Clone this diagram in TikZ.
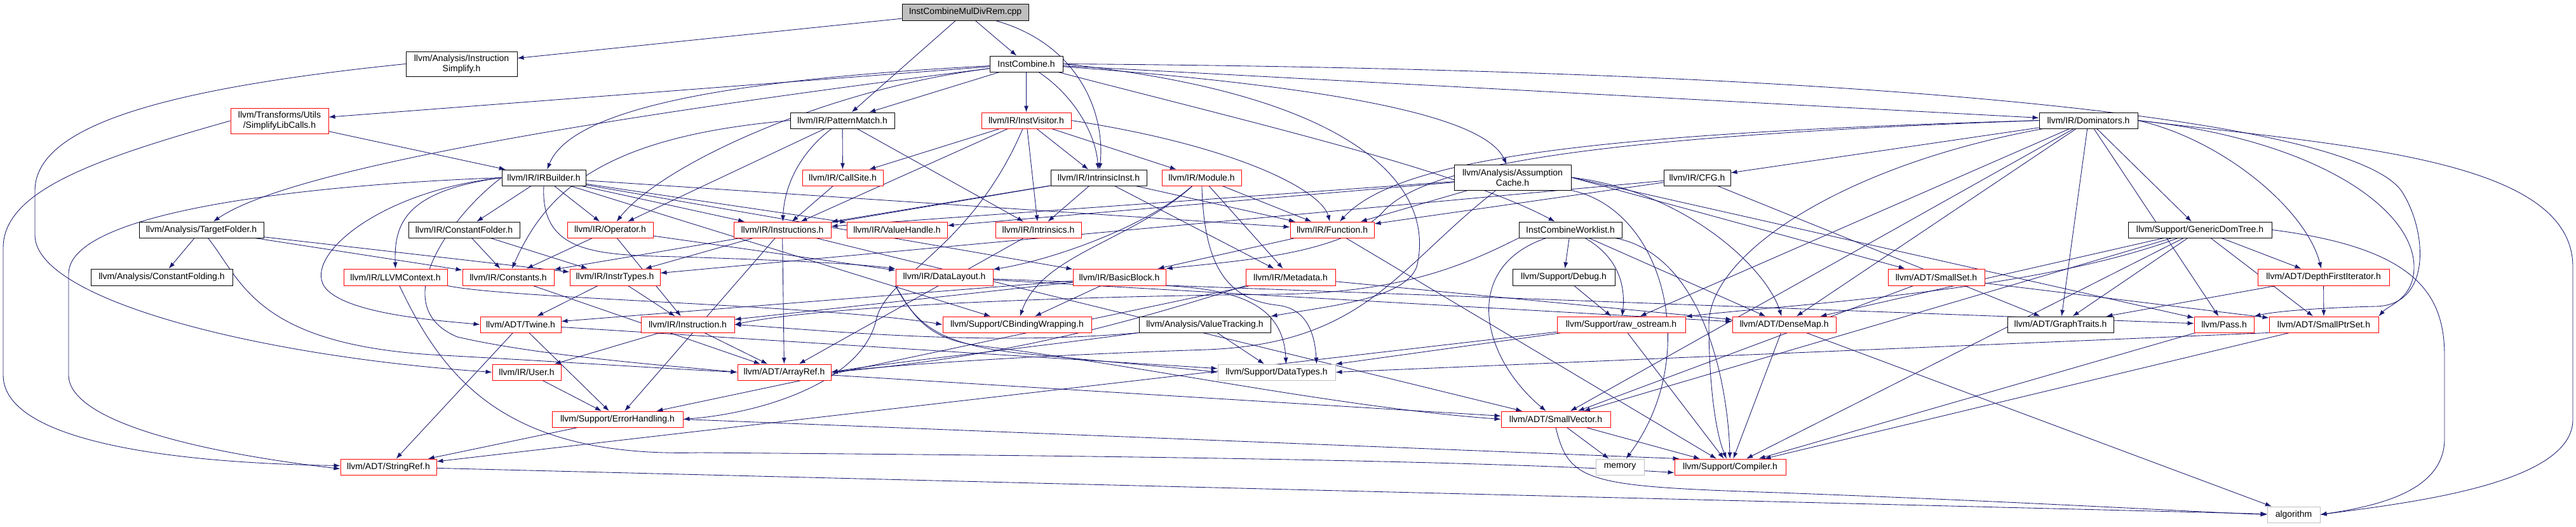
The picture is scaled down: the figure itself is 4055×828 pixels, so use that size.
\documentclass[tikz,border=0pt]{standalone}
\usepackage{fontspec}
\setmainfont{Liberation Sans}
\usetikzlibrary{arrows.meta}
\definecolor{edgec}{HTML}{191970}
\definecolor{greyc}{HTML}{BFBFBF}
\definecolor{redc}{HTML}{FF0000}
\newcommand\dxfont{\fontsize{14}{16}\selectfont}
\pgfdeclarelayer{edges}
\pgfsetlayers{edges,main}
\tikzset{
  box/.style={draw, line width=0.9pt, inner sep=0pt, align=center, font=\dxfont, fill=white},
  blk/.style={box, draw=black},
  rbox/.style={box, draw=redc},
  gbox/.style={box, draw=greyc},
  dep/.style={draw=edgec, line width=0.85pt, -{Latex[length=10pt,width=7pt]}},
}
\newcommand\bx[7]{%
 \pgfmathsetmacro\bxw{#5-#3}\pgfmathsetmacro\bxh{#6-#4}%
 \pgfmathsetmacro\bxx{(#3+#5)/2}\pgfmathsetmacro\bxy{(#4+#6)/2}%
 \node[#2, minimum width=\bxw pt, minimum height=\bxh pt] (#1) at (\bxx,\bxy) {#7};}
\begin{document}
\begin{tikzpicture}[x=1pt,y=-1pt]
\useasboundingbox (0,0) rectangle (4055,828);
\bx{cpp}{blk,fill=greyc}{1420}{6}{1619}{32}{InstCombineMulDivRem.cpp}
\bx{isimp}{blk}{639}{81}{814}{120}{llvm/Analysis/Instruction\\Simplify.h}
\bx{icomb}{blk}{1558}{88}{1673}{113}{InstCombine.h}
\bx{slc}{rbox}{363}{170}{517}{210}{llvm/Transforms/Utils\\/SimplifyLibCalls.h}
\bx{pm}{blk}{1244}{177}{1408}{202}{llvm/IR/PatternMatch.h}
\bx{iv}{rbox}{1545}{177}{1686}{202}{llvm/IR/InstVisitor.h}
\bx{dom}{blk}{3210}{177}{3365}{202}{llvm/IR/Dominators.h}
\bx{irb}{blk}{790}{267}{922}{292}{llvm/IR/IRBuilder.h}
\bx{cs}{rbox}{1263}{267}{1390}{292}{llvm/IR/CallSite.h}
\bx{ii}{blk}{1654}{267}{1805}{292}{llvm/IR/IntrinsicInst.h}
\bx{mod}{rbox}{1829}{267}{1954}{292}{llvm/IR/Module.h}
\bx{ac}{blk}{2289}{259}{2473}{299}{llvm/Analysis/Assumption\\Cache.h}
\bx{cfg}{blk}{2619}{267}{2724}{292}{llvm/IR/CFG.h}
\bx{tf}{blk}{219}{349}{415}{374}{llvm/Analysis/TargetFolder.h}
\bx{cf}{blk}{643}{349}{818}{374}{llvm/IR/ConstantFolder.h}
\bx{op}{rbox}{893}{349}{1028}{374}{llvm/IR/Operator.h}
\bx{ins}{rbox}{1155}{349}{1308}{374}{llvm/IR/Instructions.h}
\bx{vh}{rbox}{1333}{349}{1491}{374}{llvm/IR/ValueHandle.h}
\bx{intr}{rbox}{1567}{349}{1702}{374}{llvm/IR/Intrinsics.h}
\bx{fn}{rbox}{2031}{349}{2163}{374}{llvm/IR/Function.h}
\bx{icw}{blk}{2391}{349}{2553}{374}{InstCombineWorklist.h}
\bx{gdt}{blk}{3350}{349}{3576}{374}{llvm/Support/GenericDomTree.h}
\bx{cfold}{blk}{143}{423}{366}{449}{llvm/Analysis/ConstantFolding.h}
\bx{ctx}{rbox}{541}{423}{704}{449}{llvm/IR/LLVMContext.h}
\bx{cons}{rbox}{728}{423}{872}{449}{llvm/IR/Constants.h}
\bx{it}{rbox}{897}{423}{1039}{449}{llvm/IR/InstrTypes.h}
\bx{dl}{rbox}{1410}{423}{1563}{449}{llvm/IR/DataLayout.h}
\bx{bb}{rbox}{1689}{423}{1835}{449}{llvm/IR/BasicBlock.h}
\bx{md}{rbox}{1961}{423}{2102}{449}{llvm/IR/Metadata.h}
\bx{dbg}{blk}{2381}{423}{2542}{449}{llvm/Support/Debug.h}
\bx{ss}{rbox}{2972}{423}{3124}{449}{llvm/ADT/SmallSet.h}
\bx{dfi}{rbox}{3554}{423}{3761}{449}{llvm/ADT/DepthFirstIterator.h}
\bx{tw}{rbox}{756}{498}{883}{523}{llvm/ADT/Twine.h}
\bx{inst}{rbox}{1009}{498}{1156}{523}{llvm/IR/Instruction.h}
\bx{cbw}{rbox}{1484}{498}{1718}{523}{llvm/Support/CBindingWrapping.h}
\bx{vt}{blk}{1793}{498}{2000}{523}{llvm/Analysis/ValueTracking.h}
\bx{ros}{rbox}{2451}{498}{2653}{523}{llvm/Support/raw\_ostream.h}
\bx{dm}{rbox}{2727}{498}{2890}{523}{llvm/ADT/DenseMap.h}
\bx{gt}{blk}{3160}{498}{3327}{523}{llvm/ADT/GraphTraits.h}
\bx{pass}{rbox}{3454}{498}{3548}{523}{llvm/Pass.h}
\bx{sps}{rbox}{3572}{498}{3744}{523}{llvm/ADT/SmallPtrSet.h}
\bx{user}{rbox}{775}{573}{883}{598}{llvm/IR/User.h}
\bx{ar}{rbox}{1161}{573}{1308}{598}{llvm/ADT/ArrayRef.h}
\bx{dt}{gbox}{1917}{573}{2102}{598}{llvm/Support/DataTypes.h}
\bx{eh}{rbox}{869}{647}{1075}{672}{llvm/Support/ErrorHandling.h}
\bx{sv}{rbox}{2363}{647}{2535}{672}{llvm/ADT/SmallVector.h}
\bx{sr}{rbox}{536}{722}{687}{747}{llvm/ADT/StringRef.h}
\bx{mem}{gbox}{2512}{722}{2588}{747}{memory}
\bx{comp}{rbox}{2636}{722}{2811}{747}{llvm/Support/Compiler.h}
\bx{alg}{gbox}{3569}{797}{3652}{822}{algorithm}

\begin{pgfonlayer}{edges}
% InstCombineMulDivRem.cpp
\draw[dep] (cpp) -- (isimp);
\draw[dep] (cpp) -- (icomb);
\draw[dep] (cpp) -- (pm);
\draw[dep] (cpp) .. controls (1700,70) and (1740,180) .. (ii);
% InstCombine.h
\draw[dep] (icomb) -- (slc);
\draw[dep] (icomb) .. controls (900,190) and (450,270) .. (tf);
\draw[dep] (icomb) .. controls (1150,125) and (900,170) .. (irb);
\draw[dep] (icomb) -- (pm);
\draw[dep] (icomb) -- (iv);
\draw[dep] (icomb) .. controls (1690,150) and (1725,210) .. (ii);
\draw[dep] (icomb) .. controls (1300,140) and (1040,260) .. (op);
\draw[dep] (icomb) -- (dom);
\draw[dep] (icomb) .. controls (2150,140) and (2340,190) .. (ac);
\draw[dep] (icomb) .. controls (2000,200) and (2300,270) .. (icw);
\draw[dep] (icomb.east) .. controls (2150,150) and (2260,300) .. (2230,420) .. controls (2210,470) and (2100,480) .. (vt.north east);
\draw[dep] (icomb.east) .. controls (3000,110) and (3700,190) .. (3780,300) .. controls (3820,360) and (3830,480) .. (3740,482) .. controls (3650,484) and (3580,490) .. (pass.north east);
% isimp, slc
\draw[dep] (isimp.west) .. controls (250,140) and (55,200) .. (55,300) -- (55,370) .. controls (55,470) and (400,560) .. (user.west);
\draw[dep] (slc.west) .. controls (150,250) and (5,300) .. (5,390) -- (5,590) .. controls (5,690) and (250,728) .. ([yshift=2pt]sr.west);
\draw[dep] (slc) -- (irb);
% PatternMatch
\draw[dep] (pm) -- (cs);
\draw[dep] (pm.west) .. controls (950,215) and (860,300) .. (cons);
\draw[dep] (pm) .. controls (1260,240) and (1235,290) .. (ins);
\draw[dep] (pm) -- (intr);
\draw[dep] (pm) -- (op);
% InstVisitor
\draw[dep] (iv) -- (cs);
\draw[dep] (iv.east) .. controls (1950,230) and (2080,300) .. (fn);
\draw[dep] (iv) -- (ins);
\draw[dep] (iv) -- (ii);
\draw[dep] (iv) -- (intr);
\draw[dep] (iv) -- (mod);
\draw[dep] (iv) .. controls (1530,390) and (1400,430) .. (1380,500) .. controls (1360,600) and (1200,650) .. (eh.east);
% Dominators
\draw[dep] (dom) -- (cfg);
\draw[dep] (dom.west) .. controls (2500,210) and (2200,250) .. (fn);
\draw[dep] (dom.west) .. controls (2500,215) and (2250,260) .. (2180,330) .. controls (2120,400) and (1950,410) .. (bb.north east);
\draw[dep] (dom) -- (gdt);
\draw[dep] (dom) -- (dm);
\draw[dep] (dom) -- (gt);
\draw[dep] (dom) -- (sv);
\draw[dep] (dom) -- (ros);
\draw[dep] (dom) .. controls (2900,260) and (2690,400) .. (2690,510) .. controls (2690,600) and (2700,680) .. (comp);
\draw[dep] (dom) -- (pass);
\draw[dep] (dom.east) .. controls (3500,220) and (3630,330) .. (dfi);
\draw[dep] (dom.east) .. controls (3650,220) and (3800,330) .. (3800,420) .. controls (3800,470) and (3760,480) .. (sps.north east);
\draw[dep] (dom.east) .. controls (3700,230) and (4050,250) .. (4050,420) -- (4050,660) .. controls (4050,760) and (3800,790) .. (alg.east);
% IRBuilder
\draw[dep] (irb) -- (cf);
\draw[dep] (irb) -- (op);
\draw[dep] (irb) -- (ins);
\draw[dep] (irb) -- (vh);
\draw[dep] (irb) -- (fn);
\draw[dep] (irb) -- (bb);
\draw[dep] (irb) -- (cbw);
\draw[dep] (irb.south) .. controls (850,410) and (960,400) .. (1100,405) .. controls (1250,410) and (1350,415) .. (dl.north west);
\draw[dep] (irb.west) .. controls (500,290) and (110,330) .. (108,430) -- (108,590) .. controls (108,660) and (300,710) .. ([yshift=-3pt]sr.west);
\draw[dep] (irb.west) .. controls (600,300) and (480,400) .. (510,450) .. controls (540,495) and (700,505) .. (tw.west);
\draw[dep] (irb.west) .. controls (640,300) and (620,350) .. (ctx.north);
\draw[dep] (irb.west) .. controls (720,330) and (600,480) .. (720,530) .. controls (850,560) and (1050,575) .. (ar.west);
% CallSite, IntrinsicInst, Module
\draw[dep] (cs) -- (ins);
\draw[dep] (ii) -- (intr);
\draw[dep] (ii) -- (ins);
\draw[dep] (ii) -- (fn);
\draw[dep] (ii) -- (md);
\draw[dep] (ii) -- (cons);
\draw[dep] (mod) -- (fn);
\draw[dep] (mod) -- (md);
\draw[dep] (mod) .. controls (1800,360) and (1650,410) .. (dl);
\draw[dep] (mod) .. controls (1780,380) and (1640,400) .. (cbw);
\draw[dep] (mod) .. controls (1895,400) and (1920,470) .. (2010,480) .. controls (2060,485) and (2070,530) .. ([xshift=-30pt]dt.north east);
% AssumptionCache
\draw[dep] (ac) -- (fn);
\draw[dep] (ac) -- (ins);
\draw[dep] (ac) -- (vh);
\draw[dep] (ac) .. controls (2200,420) and (2150,540) .. (1900,550) .. controls (1600,560) and (1400,575) .. (ar.east);
\draw[dep] (ac.east) .. controls (2650,300) and (2780,420) .. (dm);
\draw[dep] (ac.east) -- (ss);
\draw[dep] (ac.east) -- (pass);
\draw[dep] (ac.south east) .. controls (2620,330) and (2680,560) .. (mem);
% CFG
\draw[dep] (cfg) -- (gt);
\draw[dep] (cfg) -- (fn);
\draw[dep] (cfg) -- (it);
% TargetFolder, ConstantFolder
\draw[dep] (tf) -- (cfold);
\draw[dep] (tf) -- (cons);
\draw[dep] (tf) -- (it);
\draw[dep] (tf) .. controls (380,440) and (400,540) .. (680,558) .. controls (900,570) and (1050,580) .. (ar.west);
\draw[dep] (cf) -- (cons);
\draw[dep] (cf) -- (it);
% Operator, Instructions, Intrinsics, Function
\draw[dep] (op) -- (cons);
\draw[dep] (op) -- (inst);
\draw[dep] (op) -- (dl);
\draw[dep] (ins) -- (it);
\draw[dep] (ins) -- (eh);
\draw[dep] (ins) -- (sv);
\draw[dep] (ins) -- (ar);
\draw[dep] (intr) -- (ar);
\draw[dep] (fn) -- (bb);
\draw[dep] (fn) -- (comp);
% InstCombineWorklist
\draw[dep] (icw.south west) .. controls (2300,420) and (2200,462) .. (2000,463) .. controls (1700,466) and (1300,480) .. (inst.east);
\draw[dep] (icw) .. controls (2300,420) and (2330,560) .. (sv);
\draw[dep] (icw) .. controls (2680,400) and (2720,600) .. (comp);
\draw[dep] (icw) -- (dbg);
\draw[dep] (icw) .. controls (2540,400) and (2560,440) .. (ros);
\draw[dep] (icw) -- (dm);
% GenericDomTree
\draw[dep] (gdt) -- (dm);
\draw[dep] (gdt) -- (dfi);
\draw[dep] (gdt) -- (gt);
\draw[dep] (gdt) -- (sps);
\draw[dep] (gdt) -- (sv);
\draw[dep] (gdt) -- (comp);
\draw[dep] (gdt) .. controls (3200,460) and (2800,480) .. (ros);
\draw[dep] (gdt.east) .. controls (3800,390) and (3848,460) .. (3848,560) -- (3848,690) .. controls (3848,770) and (3750,795) .. (alg.east);
% row 4
\draw[dep] (ctx.south east) .. controls (800,470) and (1300,480) .. (cbw.west);
\draw[dep] (ctx) .. controls (700,600) and (800,720) .. (1100,712) .. controls (1600,716) and (2300,722) .. ([yshift=-9pt]comp.west);
\draw[dep] (cons) -- (ar);
\draw[dep] (it) -- (tw);
\draw[dep] (it) -- (inst);
\draw[dep] (dl) -- (dm);
\draw[dep] (dl.south west) .. controls (1440,500) and (1460,535) .. (1550,545) .. controls (1800,575) and (2100,640) .. (sv.west);
\draw[dep] (dl) -- (pass);
\draw[dep] (dl.south west) .. controls (1440,505) and (1470,540) .. (1600,555) .. controls (1750,570) and (1850,578) .. (dt.west);
\draw[dep] (bb) -- (tw);
\draw[dep] (bb) -- (inst);
\draw[dep] (bb) -- (cbw);
\draw[dep] (bb.south east) .. controls (1950,455) and (2020,480) .. ([xshift=-78pt]dt.north east);
\draw[dep] (md.south west) .. controls (1800,500) and (1600,560) .. (ar.east);
\draw[dep] (md) -- (dm);
\draw[dep] (md) -- (eh);
\draw[dep] (dbg) -- (ros);
\draw[dep] (ss) -- (sps);
\draw[dep] (ss) -- (sv);
\draw[dep] (dfi) -- (gt);
\draw[dep] (dfi) -- (sps);
% row 5
\draw[dep] (tw) -- (sr);
\draw[dep] (tw) -- (dt);
\draw[dep] (tw) -- (eh);
\draw[dep] (inst) -- (user);
\draw[dep] (inst) -- (ar);
\draw[dep] (vt.south west) .. controls (1550,545) and (1300,520) .. (inst.east);
\draw[dep] (vt.south west) .. controls (1600,550) and (1400,570) .. (ar.east);
\draw[dep] (vt) -- (dt);
\draw[dep] (ros) -- (dt);
\draw[dep] (ros) -- (sr);
\draw[dep] (ros) -- (comp);
\draw[dep] (dm) -- (comp);
\draw[dep] (dm) -- (alg);
\draw[dep] (pass) -- (comp);
\draw[dep] (sps) -- (comp);
\draw[dep] (sps.south west) -- (dt.east);
% lower rows
\draw[dep] (user) -- (eh);
\draw[dep] (ar) -- (sv);
\draw[dep] (eh) -- (sr);
\draw[dep] (eh.east) -- ([xshift=8pt]comp.north west);
\draw[dep] (sv) -- (mem);
\draw[dep] (sv) -- (comp);
\draw[dep] (sv.south) .. controls (2470,760) and (2500,765) .. (2800,775) .. controls (3200,790) and (3450,805) .. (alg.west);
\draw[dep] (sr) -- (alg);
\end{pgfonlayer}
\end{tikzpicture}
\end{document}
